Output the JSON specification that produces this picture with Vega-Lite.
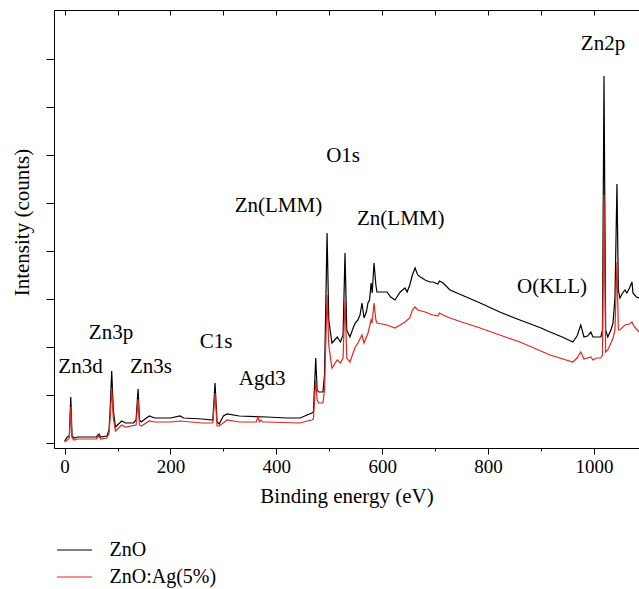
{
  "$schema": "https://vega.github.io/schema/vega-lite/v6.json",
  "width": 585,
  "height": 438,
  "autosize": {"type": "none"},
  "padding": {"left": 54, "top": 10, "right": 0, "bottom": 141},
  "background": "white",
  "config": {
    "font": "Liberation Serif",
    "view": {"stroke": null},
    "text": {"font": "Liberation Serif"},
    "axis": {
      "domainColor": "#000000",
      "domainWidth": 1,
      "tickColor": "#000000",
      "tickWidth": 1,
      "labelColor": "#000000",
      "titleColor": "#000000",
      "labelFont": "Liberation Serif",
      "titleFont": "Liberation Serif",
      "titleFontWeight": "normal",
      "grid": false
    },
    "legend": {"labelFont": "Liberation Serif", "labelColor": "#000000"}
  },
  "datasets": {
    "spectra": [
      {"energy": 0, "sample": "ZnO", "counts": 200},
      {"energy": 5, "sample": "ZnO", "counts": 600},
      {"energy": 9, "sample": "ZnO", "counts": 700},
      {"energy": 11.7, "sample": "ZnO", "counts": 4600},
      {"energy": 14, "sample": "ZnO", "counts": 700},
      {"energy": 18, "sample": "ZnO", "counts": 500},
      {"energy": 25, "sample": "ZnO", "counts": 600},
      {"energy": 40, "sample": "ZnO", "counts": 600},
      {"energy": 60, "sample": "ZnO", "counts": 600},
      {"energy": 65, "sample": "ZnO", "counts": 900},
      {"energy": 68, "sample": "ZnO", "counts": 600},
      {"energy": 80, "sample": "ZnO", "counts": 700},
      {"energy": 84, "sample": "ZnO", "counts": 1300},
      {"energy": 86, "sample": "ZnO", "counts": 3300},
      {"energy": 89, "sample": "ZnO", "counts": 7200},
      {"energy": 92, "sample": "ZnO", "counts": 3300},
      {"energy": 96, "sample": "ZnO", "counts": 1600},
      {"energy": 100, "sample": "ZnO", "counts": 1800},
      {"energy": 108, "sample": "ZnO", "counts": 2200},
      {"energy": 115, "sample": "ZnO", "counts": 2000},
      {"energy": 130, "sample": "ZnO", "counts": 2000},
      {"energy": 135, "sample": "ZnO", "counts": 2300},
      {"energy": 138.8, "sample": "ZnO", "counts": 5400},
      {"energy": 141.5, "sample": "ZnO", "counts": 2300},
      {"energy": 145, "sample": "ZnO", "counts": 2100},
      {"energy": 152, "sample": "ZnO", "counts": 2400},
      {"energy": 160, "sample": "ZnO", "counts": 2700},
      {"energy": 170, "sample": "ZnO", "counts": 2500},
      {"energy": 200, "sample": "ZnO", "counts": 2500},
      {"energy": 218, "sample": "ZnO", "counts": 2700},
      {"energy": 225, "sample": "ZnO", "counts": 2500},
      {"energy": 260, "sample": "ZnO", "counts": 2400},
      {"energy": 280, "sample": "ZnO", "counts": 2300},
      {"energy": 284.2, "sample": "ZnO", "counts": 6000},
      {"energy": 288, "sample": "ZnO", "counts": 2100},
      {"energy": 292, "sample": "ZnO", "counts": 1900},
      {"energy": 300, "sample": "ZnO", "counts": 2700},
      {"energy": 307, "sample": "ZnO", "counts": 2900},
      {"energy": 330, "sample": "ZnO", "counts": 2700},
      {"energy": 382, "sample": "ZnO", "counts": 2600},
      {"energy": 420, "sample": "ZnO", "counts": 2500},
      {"energy": 445, "sample": "ZnO", "counts": 2500},
      {"energy": 458, "sample": "ZnO", "counts": 2800},
      {"energy": 467, "sample": "ZnO", "counts": 3000},
      {"energy": 470, "sample": "ZnO", "counts": 3100},
      {"energy": 474.4, "sample": "ZnO", "counts": 8500},
      {"energy": 477, "sample": "ZnO", "counts": 5300},
      {"energy": 480, "sample": "ZnO", "counts": 5100},
      {"energy": 488, "sample": "ZnO", "counts": 5100},
      {"energy": 491, "sample": "ZnO", "counts": 6800},
      {"energy": 495.8, "sample": "ZnO", "counts": 21000},
      {"energy": 499, "sample": "ZnO", "counts": 12300},
      {"energy": 505, "sample": "ZnO", "counts": 10000},
      {"energy": 515, "sample": "ZnO", "counts": 10600},
      {"energy": 521, "sample": "ZnO", "counts": 10100},
      {"energy": 526, "sample": "ZnO", "counts": 10800},
      {"energy": 529.7, "sample": "ZnO", "counts": 19000},
      {"energy": 533, "sample": "ZnO", "counts": 11300},
      {"energy": 539, "sample": "ZnO", "counts": 10600},
      {"energy": 545, "sample": "ZnO", "counts": 11500},
      {"energy": 549, "sample": "ZnO", "counts": 12000},
      {"energy": 554, "sample": "ZnO", "counts": 12300},
      {"energy": 558, "sample": "ZnO", "counts": 12800},
      {"energy": 561.8, "sample": "ZnO", "counts": 14000},
      {"energy": 565.6, "sample": "ZnO", "counts": 12500},
      {"energy": 570, "sample": "ZnO", "counts": 13100},
      {"energy": 573, "sample": "ZnO", "counts": 14000},
      {"energy": 576, "sample": "ZnO", "counts": 14300},
      {"energy": 579, "sample": "ZnO", "counts": 16000},
      {"energy": 581, "sample": "ZnO", "counts": 15000},
      {"energy": 584.5, "sample": "ZnO", "counts": 18000},
      {"energy": 588, "sample": "ZnO", "counts": 15800},
      {"energy": 590, "sample": "ZnO", "counts": 15100},
      {"energy": 600, "sample": "ZnO", "counts": 15100},
      {"energy": 609, "sample": "ZnO", "counts": 15100},
      {"energy": 616, "sample": "ZnO", "counts": 14600},
      {"energy": 624, "sample": "ZnO", "counts": 14300},
      {"energy": 634, "sample": "ZnO", "counts": 15100},
      {"energy": 643, "sample": "ZnO", "counts": 15500},
      {"energy": 647, "sample": "ZnO", "counts": 15100},
      {"energy": 652, "sample": "ZnO", "counts": 15800},
      {"energy": 657, "sample": "ZnO", "counts": 16800},
      {"energy": 662, "sample": "ZnO", "counts": 17500},
      {"energy": 667, "sample": "ZnO", "counts": 16800},
      {"energy": 672, "sample": "ZnO", "counts": 16600},
      {"energy": 681, "sample": "ZnO", "counts": 16300},
      {"energy": 690, "sample": "ZnO", "counts": 16100},
      {"energy": 696, "sample": "ZnO", "counts": 16100},
      {"energy": 705, "sample": "ZnO", "counts": 15900},
      {"energy": 708, "sample": "ZnO", "counts": 16200},
      {"energy": 715, "sample": "ZnO", "counts": 16000},
      {"energy": 728, "sample": "ZnO", "counts": 15300},
      {"energy": 750, "sample": "ZnO", "counts": 14800},
      {"energy": 785, "sample": "ZnO", "counts": 14000},
      {"energy": 822, "sample": "ZnO", "counts": 13100},
      {"energy": 860, "sample": "ZnO", "counts": 12300},
      {"energy": 900, "sample": "ZnO", "counts": 11500},
      {"energy": 917, "sample": "ZnO", "counts": 11100},
      {"energy": 940, "sample": "ZnO", "counts": 10600},
      {"energy": 960, "sample": "ZnO", "counts": 10100},
      {"energy": 968, "sample": "ZnO", "counts": 10700},
      {"energy": 975, "sample": "ZnO", "counts": 11800},
      {"energy": 981, "sample": "ZnO", "counts": 10600},
      {"energy": 988, "sample": "ZnO", "counts": 10700},
      {"energy": 994, "sample": "ZnO", "counts": 11100},
      {"energy": 998, "sample": "ZnO", "counts": 10600},
      {"energy": 1005, "sample": "ZnO", "counts": 10600},
      {"energy": 1013, "sample": "ZnO", "counts": 10600},
      {"energy": 1016, "sample": "ZnO", "counts": 11300},
      {"energy": 1018.9, "sample": "ZnO", "counts": 36700},
      {"energy": 1022, "sample": "ZnO", "counts": 11300},
      {"energy": 1026, "sample": "ZnO", "counts": 10600},
      {"energy": 1032, "sample": "ZnO", "counts": 11300},
      {"energy": 1036, "sample": "ZnO", "counts": 12000},
      {"energy": 1039.6, "sample": "ZnO", "counts": 14600},
      {"energy": 1043.4, "sample": "ZnO", "counts": 25900},
      {"energy": 1046, "sample": "ZnO", "counts": 15300},
      {"energy": 1049, "sample": "ZnO", "counts": 14500},
      {"energy": 1054, "sample": "ZnO", "counts": 15000},
      {"energy": 1058.5, "sample": "ZnO", "counts": 15300},
      {"energy": 1062, "sample": "ZnO", "counts": 15000},
      {"energy": 1067, "sample": "ZnO", "counts": 15500},
      {"energy": 1071.8, "sample": "ZnO", "counts": 16100},
      {"energy": 1073.6, "sample": "ZnO", "counts": 15000},
      {"energy": 1080, "sample": "ZnO", "counts": 14600},
      {"energy": 1085, "sample": "ZnO", "counts": 14500},
      {"energy": 0, "sample": "ZnO:Ag(5%)", "counts": 100},
      {"energy": 5, "sample": "ZnO:Ag(5%)", "counts": 300},
      {"energy": 9, "sample": "ZnO:Ag(5%)", "counts": 500},
      {"energy": 11.7, "sample": "ZnO:Ag(5%)", "counts": 3600},
      {"energy": 14, "sample": "ZnO:Ag(5%)", "counts": 500},
      {"energy": 18, "sample": "ZnO:Ag(5%)", "counts": 300},
      {"energy": 25, "sample": "ZnO:Ag(5%)", "counts": 400},
      {"energy": 60, "sample": "ZnO:Ag(5%)", "counts": 400},
      {"energy": 65, "sample": "ZnO:Ag(5%)", "counts": 700},
      {"energy": 68, "sample": "ZnO:Ag(5%)", "counts": 400},
      {"energy": 80, "sample": "ZnO:Ag(5%)", "counts": 500},
      {"energy": 84, "sample": "ZnO:Ag(5%)", "counts": 1000},
      {"energy": 86, "sample": "ZnO:Ag(5%)", "counts": 2500},
      {"energy": 89, "sample": "ZnO:Ag(5%)", "counts": 5500},
      {"energy": 92, "sample": "ZnO:Ag(5%)", "counts": 2500},
      {"energy": 96, "sample": "ZnO:Ag(5%)", "counts": 1200},
      {"energy": 100, "sample": "ZnO:Ag(5%)", "counts": 1400},
      {"energy": 108, "sample": "ZnO:Ag(5%)", "counts": 1800},
      {"energy": 115, "sample": "ZnO:Ag(5%)", "counts": 1600},
      {"energy": 135, "sample": "ZnO:Ag(5%)", "counts": 1800},
      {"energy": 138.8, "sample": "ZnO:Ag(5%)", "counts": 4400},
      {"energy": 141.5, "sample": "ZnO:Ag(5%)", "counts": 1800},
      {"energy": 145, "sample": "ZnO:Ag(5%)", "counts": 1700},
      {"energy": 160, "sample": "ZnO:Ag(5%)", "counts": 2200},
      {"energy": 170, "sample": "ZnO:Ag(5%)", "counts": 2100},
      {"energy": 200, "sample": "ZnO:Ag(5%)", "counts": 2100},
      {"energy": 218, "sample": "ZnO:Ag(5%)", "counts": 2200},
      {"energy": 260, "sample": "ZnO:Ag(5%)", "counts": 2000},
      {"energy": 280, "sample": "ZnO:Ag(5%)", "counts": 2000},
      {"energy": 284.2, "sample": "ZnO:Ag(5%)", "counts": 5000},
      {"energy": 288, "sample": "ZnO:Ag(5%)", "counts": 1700},
      {"energy": 292, "sample": "ZnO:Ag(5%)", "counts": 1700},
      {"energy": 307, "sample": "ZnO:Ag(5%)", "counts": 2300},
      {"energy": 330, "sample": "ZnO:Ag(5%)", "counts": 2100},
      {"energy": 362, "sample": "ZnO:Ag(5%)", "counts": 2100},
      {"energy": 365.4, "sample": "ZnO:Ag(5%)", "counts": 2600},
      {"energy": 368, "sample": "ZnO:Ag(5%)", "counts": 2100},
      {"energy": 371, "sample": "ZnO:Ag(5%)", "counts": 2300},
      {"energy": 374, "sample": "ZnO:Ag(5%)", "counts": 2100},
      {"energy": 382, "sample": "ZnO:Ag(5%)", "counts": 2100},
      {"energy": 445, "sample": "ZnO:Ag(5%)", "counts": 2000},
      {"energy": 458, "sample": "ZnO:Ag(5%)", "counts": 2200},
      {"energy": 467, "sample": "ZnO:Ag(5%)", "counts": 2300},
      {"energy": 470, "sample": "ZnO:Ag(5%)", "counts": 2400},
      {"energy": 474.4, "sample": "ZnO:Ag(5%)", "counts": 6300},
      {"energy": 477, "sample": "ZnO:Ag(5%)", "counts": 4300},
      {"energy": 480, "sample": "ZnO:Ag(5%)", "counts": 4000},
      {"energy": 488, "sample": "ZnO:Ag(5%)", "counts": 4000},
      {"energy": 491, "sample": "ZnO:Ag(5%)", "counts": 5300},
      {"energy": 495.8, "sample": "ZnO:Ag(5%)", "counts": 14800},
      {"energy": 499, "sample": "ZnO:Ag(5%)", "counts": 9800},
      {"energy": 505, "sample": "ZnO:Ag(5%)", "counts": 7500},
      {"energy": 515, "sample": "ZnO:Ag(5%)", "counts": 8300},
      {"energy": 521, "sample": "ZnO:Ag(5%)", "counts": 8000},
      {"energy": 526, "sample": "ZnO:Ag(5%)", "counts": 8500},
      {"energy": 529.7, "sample": "ZnO:Ag(5%)", "counts": 14300},
      {"energy": 533, "sample": "ZnO:Ag(5%)", "counts": 8500},
      {"energy": 539, "sample": "ZnO:Ag(5%)", "counts": 8100},
      {"energy": 549, "sample": "ZnO:Ag(5%)", "counts": 9600},
      {"energy": 554, "sample": "ZnO:Ag(5%)", "counts": 10000},
      {"energy": 561.8, "sample": "ZnO:Ag(5%)", "counts": 10800},
      {"energy": 565.6, "sample": "ZnO:Ag(5%)", "counts": 10000},
      {"energy": 573.2, "sample": "ZnO:Ag(5%)", "counts": 11000},
      {"energy": 578.9, "sample": "ZnO:Ag(5%)", "counts": 12300},
      {"energy": 580.7, "sample": "ZnO:Ag(5%)", "counts": 12000},
      {"energy": 584.5, "sample": "ZnO:Ag(5%)", "counts": 14000},
      {"energy": 588, "sample": "ZnO:Ag(5%)", "counts": 12300},
      {"energy": 590, "sample": "ZnO:Ag(5%)", "counts": 12000},
      {"energy": 609, "sample": "ZnO:Ag(5%)", "counts": 11800},
      {"energy": 624, "sample": "ZnO:Ag(5%)", "counts": 11500},
      {"energy": 634, "sample": "ZnO:Ag(5%)", "counts": 11800},
      {"energy": 643, "sample": "ZnO:Ag(5%)", "counts": 12100},
      {"energy": 652, "sample": "ZnO:Ag(5%)", "counts": 12500},
      {"energy": 657, "sample": "ZnO:Ag(5%)", "counts": 13300},
      {"energy": 662, "sample": "ZnO:Ag(5%)", "counts": 13600},
      {"energy": 667, "sample": "ZnO:Ag(5%)", "counts": 13300},
      {"energy": 681, "sample": "ZnO:Ag(5%)", "counts": 13100},
      {"energy": 690, "sample": "ZnO:Ag(5%)", "counts": 12900},
      {"energy": 696, "sample": "ZnO:Ag(5%)", "counts": 12800},
      {"energy": 705, "sample": "ZnO:Ag(5%)", "counts": 12700},
      {"energy": 708, "sample": "ZnO:Ag(5%)", "counts": 13000},
      {"energy": 715, "sample": "ZnO:Ag(5%)", "counts": 12800},
      {"energy": 728, "sample": "ZnO:Ag(5%)", "counts": 12500},
      {"energy": 750, "sample": "ZnO:Ag(5%)", "counts": 12100},
      {"energy": 785, "sample": "ZnO:Ag(5%)", "counts": 11500},
      {"energy": 822, "sample": "ZnO:Ag(5%)", "counts": 10800},
      {"energy": 860, "sample": "ZnO:Ag(5%)", "counts": 10100},
      {"energy": 917, "sample": "ZnO:Ag(5%)", "counts": 8800},
      {"energy": 960, "sample": "ZnO:Ag(5%)", "counts": 8100},
      {"energy": 968, "sample": "ZnO:Ag(5%)", "counts": 8500},
      {"energy": 975, "sample": "ZnO:Ag(5%)", "counts": 9100},
      {"energy": 981, "sample": "ZnO:Ag(5%)", "counts": 8400},
      {"energy": 994, "sample": "ZnO:Ag(5%)", "counts": 8600},
      {"energy": 998, "sample": "ZnO:Ag(5%)", "counts": 8300},
      {"energy": 1005, "sample": "ZnO:Ag(5%)", "counts": 8500},
      {"energy": 1013, "sample": "ZnO:Ag(5%)", "counts": 8500},
      {"energy": 1016, "sample": "ZnO:Ag(5%)", "counts": 8800},
      {"energy": 1018.9, "sample": "ZnO:Ag(5%)", "counts": 24800},
      {"energy": 1022, "sample": "ZnO:Ag(5%)", "counts": 9100},
      {"energy": 1026, "sample": "ZnO:Ag(5%)", "counts": 9300},
      {"energy": 1032, "sample": "ZnO:Ag(5%)", "counts": 10000},
      {"energy": 1036, "sample": "ZnO:Ag(5%)", "counts": 10500},
      {"energy": 1039.6, "sample": "ZnO:Ag(5%)", "counts": 11300},
      {"energy": 1043.4, "sample": "ZnO:Ag(5%)", "counts": 18100},
      {"energy": 1046, "sample": "ZnO:Ag(5%)", "counts": 11300},
      {"energy": 1049, "sample": "ZnO:Ag(5%)", "counts": 11300},
      {"energy": 1058.5, "sample": "ZnO:Ag(5%)", "counts": 11800},
      {"energy": 1067, "sample": "ZnO:Ag(5%)", "counts": 11900},
      {"energy": 1071.8, "sample": "ZnO:Ag(5%)", "counts": 12100},
      {"energy": 1075, "sample": "ZnO:Ag(5%)", "counts": 11700},
      {"energy": 1085, "sample": "ZnO:Ag(5%)", "counts": 11100}
    ],
    "labels": [
      {"energy": 30, "counts": 7600, "label": "Zn3d"},
      {"energy": 87.6, "counts": 11000, "label": "Zn3p"},
      {"energy": 163, "counts": 7600, "label": "Zn3s"},
      {"energy": 286, "counts": 10100, "label": "C1s"},
      {"energy": 373, "counts": 6400, "label": "Agd3"},
      {"energy": 404, "counts": 23700, "label": "Zn(LMM)"},
      {"energy": 526, "counts": 28700, "label": "O1s"},
      {"energy": 635, "counts": 22400, "label": "Zn(LMM)"},
      {"energy": 920.7, "counts": 15600, "label": "O(KLL)"},
      {"energy": 1017, "counts": 39900, "label": "Zn2p"}
    ]
  },
  "resolve": {"axis": {"x": "independent"}},
  "layer": [
    {
      "data": {"name": "spectra"},
      "mark": {"type": "line", "strokeWidth": 1.2, "clip": true},
      "encoding": {
        "x": {
          "field": "energy",
          "type": "quantitative",
          "scale": {"domain": [-20, 1085], "nice": false, "zero": false},
          "axis": {
            "orient": "bottom",
            "title": "Binding energy (eV)",
            "titleFont": "Liberation Serif",
            "titleFontSize": 21,
            "titlePadding": 9,
            "values": [0, 100, 200, 300, 400, 500, 600, 700, 800, 900, 1000],
            "format": "d",
            "labelExpr": "datum.value % 200 === 0 ? format(datum.value, 'd') : ''",
            "labelFont": "Liberation Serif",
            "labelFontSize": 19,
            "labelPadding": 3,
            "tickSize": {"condition": {"test": "datum.value % 200 === 0", "value": 6}, "value": 3}
          }
        },
        "y": {
          "field": "counts",
          "type": "quantitative",
          "scale": {"domain": [-500, 43300], "nice": false, "zero": false},
          "axis": {
            "title": "Intensity (counts)",
            "titleFont": "Liberation Serif",
            "titleFontSize": 21,
            "titleX": -32,
            "titleY": 212,
            "titleBaseline": "middle",
            "values": [0, 4800, 9600, 14400, 19200, 24000, 28800, 33600, 38400],
            "labels": false,
            "tickSize": 8
          }
        },
        "color": {
          "field": "sample",
          "type": "nominal",
          "scale": {"domain": ["ZnO", "ZnO:Ag(5%)"], "range": ["#000000", "#e3261e"]},
          "legend": {
            "title": null,
            "orient": "none",
            "legendX": 10.5,
            "legendY": 530,
            "symbolType": "M-2.5,0H2.5",
            "symbolSize": 196,
            "symbolStrokeWidth": 1.2,
            "labelFont": "Liberation Serif",
            "labelFontSize": 20,
            "labelOffset": 25,
            "rowPadding": 7
          }
        }
      }
    },
    {
      "data": {"name": "labels"},
      "mark": {"type": "text", "fontSize": 21, "font": "Liberation Serif", "color": "#000000", "align": "center", "baseline": "middle"},
      "encoding": {
        "x": {
          "field": "energy",
          "type": "quantitative",
          "axis": {
            "orient": "top",
            "title": null,
            "labels": false,
            "values": [0, 100, 200, 300, 400, 500, 600, 700, 800, 900, 1000],
            "tickSize": -5
          }
        },
        "y": {"field": "counts", "type": "quantitative"},
        "text": {"field": "label"}
      }
    }
  ]
}
